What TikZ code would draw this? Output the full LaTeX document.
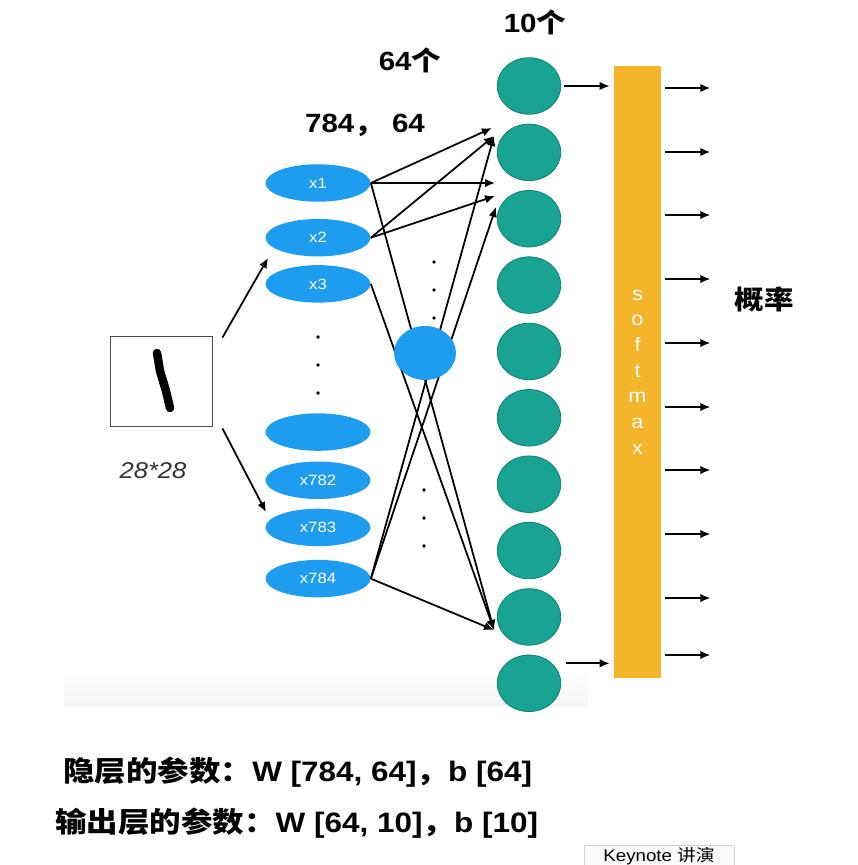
\documentclass[tikz,border=0pt]{standalone}
\usepackage{fontspec}
\setmainfont{Liberation Sans}[FakeStretch=1.12]
\newfontfamily\cjk{Noto Sans CJK SC}[FakeStretch=1.12]
\usetikzlibrary{shapes,arrows.meta,positioning,calc}
\usepackage{xcolor}
\definecolor{inblue}{HTML}{1E9CF0}
\definecolor{outteal}{HTML}{18A392}
\definecolor{tealedge}{HTML}{10867A}
\definecolor{smorange}{HTML}{F4B52B}

\begin{document}
\begin{tikzpicture}[
  x=0.02cm, y=-0.02cm,
  node distance=0.2cm,
  inp/.style={ellipse, fill=inblue, minimum width=2.1cm, minimum height=0.75cm, inner sep=0pt, text=white, font=\fontsize{8.5}{10}\selectfont},
  hid/.style={ellipse, fill=inblue, minimum width=1.24cm, minimum height=1.08cm, inner sep=0pt},
  outn/.style={ellipse, draw=tealedge, line width=0.5pt, fill=outteal, minimum width=1.27cm, minimum height=1.13cm, inner sep=0pt},
  title/.style={font=\fontsize{15}{18}\selectfont\bfseries},
  param/.style={font=\fontsize{16}{19}\selectfont\bfseries, anchor=west, inner sep=0pt},
  arrow/.style={-{Latex[length=2mm, width=1.7mm]}, line width=1pt}
]
  \useasboundingbox (0,0) rectangle (858,865);
  \fill[white] (0,0) rectangle (858,865);
  \shade[top color=white, bottom color=gray!7] (64,668) rectangle (588,706);
  % Input image
  \node[rectangle, draw=gray!60!black, line width=0.5pt, minimum width=2.04cm, minimum height=1.8cm] (img) at (161,381) {};
  \draw[line width=0.17cm, line cap=round, line join=round] (157,353) -- (160,371) -- (166,391) -- (170,408);
  \node[font=\fontsize{13}{15}\selectfont\itshape, text=black!80] (size) at (153,471) {28*28};
  % Input layer
  \node[inp] (x1) at (318,183) {x1};
  \node[inp, below=0.33cm of x1] (x2) {x2};
  \node[inp, below=0.16cm of x2] (x3) {x3};
  \node[inp, below=2.2cm of x3] (xb) {};
  \node[inp, below=0.2cm of xb] (x782) {x782};
  \node[inp, below=0.18cm of x782] (x783) {x783};
  \node[inp, below=0.26cm of x783] (x784) {x784};
  \foreach \yy in {337,365,393} \fill (318,\yy) circle (0.038cm);
  % Output layer
  \node[outn] (o1) at (529,86) {};
  \node[outn, below=0.18cm of o1] (o2) {};
  \node[outn, below=0.18cm of o2] (o3) {};
  \node[outn, below=0.18cm of o3] (o4) {};
  \node[outn, below=0.18cm of o4] (o5) {};
  \node[outn, below=0.18cm of o5] (o6) {};
  \node[outn, below=0.18cm of o6] (o7) {};
  \node[outn, below=0.18cm of o7] (o8) {};
  \node[outn, below=0.18cm of o8] (o9) {};
  \node[outn, below=0.18cm of o9] (o10) {};
  % Softmax
  \node[rectangle, fill=smorange, minimum width=0.94cm, minimum height=12.24cm, inner sep=0pt, text=white, align=center, font=\fontsize{11}{14.6}\selectfont] (sm) at (637.5,372) {s\\o\\f\\t\\m\\a\\x};
  % Labels
  \node[title] (cnt10) at (535,22) {10{\cjk 个}};
  \node[title] (cnt64) at (410,60) {64{\cjk 个}};
  \node[title] (dims) at (365,125) {784{\cjk ，} 64};
  \node[title] (prob) at (764,299) {{\cjk 概率}};
  \node[param] (wh) at (63,772) {{\cjk 隐层的参数：}W [784, 64]{\cjk ，}b [64]};
  \node[param] (wo) at (55,823) {{\cjk 输出层的参数：}W [64, 10]{\cjk ，}b [10]};
  % Arrows
  \coordinate (up) at (268,258);
  \coordinate (dn) at (266,512);
  \draw[arrow] ([xshift=0.2cm, yshift=-0.04cm]img.north east) -- (up);
  \draw[arrow] ([xshift=0.2cm, yshift=-0.04cm]img.south east) -- (dn);
  \coordinate (t1) at (492,128);
  \coordinate (t2) at (494,136);
  \coordinate (t3) at (495,183);
  \coordinate (t4) at (495,196);
  \coordinate (t5) at (496,207);
  \coordinate (t6) at (494,630);
  \draw[arrow] (x1.east) -- (t1);
  \draw[arrow] (x1.east) -- (t3);
  \draw[arrow] (x1.east) -- (t6);
  \draw[arrow] (x2.east) -- (t2);
  \draw[arrow] (x2.east) -- (t4);
  \draw[arrow] (x3.east) -- (t6);
  \draw[arrow] (x784.east) -- (t6);
  \draw[arrow] (x784.east) -- (t2);
  \draw[arrow] (x784.east) -- (t5);
  % Hidden layer
  \node[hid] (h) at (425,353) {};
  \foreach \yy in {262,290,318} \fill (434,\yy) circle (0.038cm);
  \foreach \yy in {490,518,546} \fill (424,\yy) circle (0.038cm);
  % Softmax in and out
  \coordinate (o10r) at ([yshift=0.4cm]o10.east);
  \draw[arrow, shorten <=0.06cm, shorten >=0.08cm] (o1) -- (o1 -| sm.west);
  \draw[arrow, shorten <=0.1cm, shorten >=0.08cm] (o10r) -- (o10r -| sm.west);
  \foreach \yy in {88,152,215,279,343,407,470,534,598,655}
    \draw[arrow, shorten <=0.08cm] (sm.east |- 0,\yy) -- ++(49,0);
  % Keynote tab
  \begin{scope}
    \clip (0,0) rectangle (858,865);
    \draw[draw=gray!35, fill=gray!3] (584,845) rectangle (734,880);
    \node[font=\fontsize{9.5}{11}\selectfont, inner sep=1pt] (kn) at (659,856) {Keynote {\cjk 讲演}};
  \end{scope}
\end{tikzpicture}
\end{document}
